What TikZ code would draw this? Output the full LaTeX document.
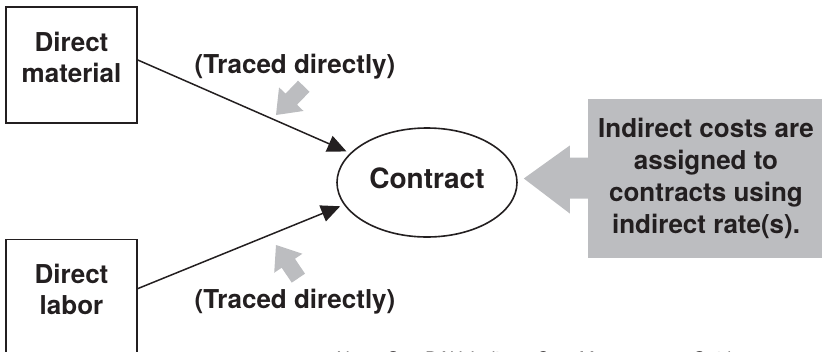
\documentclass[tikz,border=0pt]{standalone}
\usepackage{fontspec}
\setmainfont{TeX Gyre Heros}
\usepackage{xcolor}
\definecolor{costgray}{HTML}{BCBDC0}
\definecolor{inkblack}{HTML}{231F20}
\usetikzlibrary{positioning, shapes.geometric, arrows.meta}

\tikzset{
  hintarrow/.pic={
    \fill[costgray] (0,0) -- (-22,-17) -- (-22,-8) -- (-40,-8) -- (-40,8) -- (-22,8) -- (-22,17) -- cycle;
  }
}

\begin{document}
\begin{tikzpicture}[
  x=1pt, y=-1pt,
  every node/.style={text=inkblack},
  box/.style={draw=inkblack, line width=1.6pt, minimum width=131pt, minimum height=116pt, align=center, inner sep=0pt, text depth=16pt, font=\fontsize{26}{31}\selectfont\bfseries},
  target/.style={ellipse, draw=inkblack, line width=1.6pt, minimum width=180pt, minimum height=109pt, inner sep=0pt, font=\fontsize{28}{34}\selectfont\bfseries},
  infobox/.style={fill=costgray, minimum width=236pt, minimum height=159pt, align=center, inner sep=0pt, font=\fontsize{26}{32}\selectfont\bfseries},
  tag/.style={font=\fontsize{26}{31}\selectfont\bfseries},
  note/.style={font=\fontsize{18.5}{22}\selectfont},
  arr/.style={-{Triangle[length=19pt, width=17pt]}, line width=1.5pt, draw=inkblack, shorten >=4pt},
]
  \clip (0,0) rectangle (822,351);

  % Cost sources
  \node[box] (mat) at (71.5,65) {Direct\\material};
  \node[box, below=115pt of mat] (lab) {Direct\\labor};

  % Contract and indirect costs
  \node[target] (contract) at (427,182.5) {\raisebox{9pt}{Contract}};
  \node[infobox, right=70pt of contract, yshift=4pt] (rates) {Indirect costs are\\assigned to\\contracts using\\indirect rate(s).};

  % Labels
  \node[tag] (tracedtop) at (295,67) {(Traced directly)};
  \node[tag] (tracedbot) at (295,302) {(Traced directly)};
  \node[note, anchor=base west] (note) at (333,365) {Note: See DAU \textit{Indirect-Cost Management Guide} at};

  % Grey pointers
  \fill[costgray] ([xshift=-64pt]rates.west) -- ++(46,-33) -- ++(0,12) -- ++(20,0) -- ++(0,41) -- ++(-20,0) -- ++(0,15) -- cycle;
  \pic[rotate=226] at (276,115) {hintarrow};
  \pic[rotate=124] at (276,245) {hintarrow};

  % Arrows
  \draw[arr] ([yshift=5pt]mat.east) -- (contract.159);
  \draw[arr] ([yshift=9pt]lab.east) -- (contract.195);
\end{tikzpicture}
\end{document}
